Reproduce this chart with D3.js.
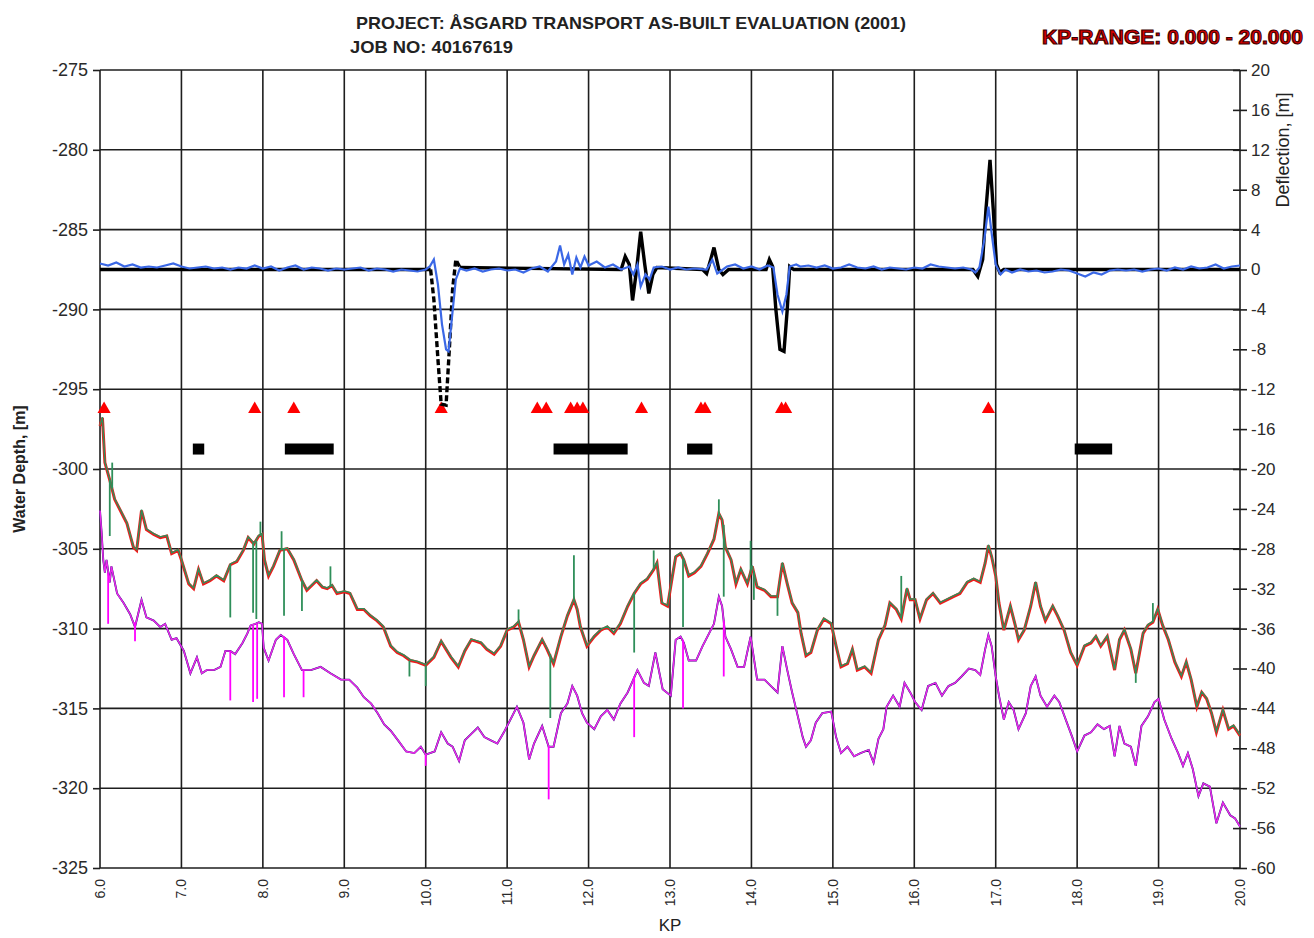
<!DOCTYPE html>
<html>
<head>
<meta charset="utf-8">
<script src="https://d3js.org/d3.v7.min.js"></script>
<style>
	body { margin: 0; background: #fff; }
	svg text { font-family: 'Liberation Sans', Arial, sans-serif; }
</style>
</head>
<body>
<div id="chart"></div>
<script>
// ticks //
var kpTicks = [6, 7, 8, 9, 10, 11, 12, 13, 14, 15, 16, 17, 18, 19, 20]
var depthTicks = [-275, -280, -285, -290, -295, -300, -305, -310, -315, -320, -325]
var deflectionTicks = [20, 16, 12, 8, 4, 0, -4, -8, -12, -16, -20, -24, -28, -32, -36, -40, -44, -48, -52, -56, -60]

// deflection series [kp, m] //
var deflectionBlack = [[6.00,0],[10.06,0],[10.10,-3],[10.15,-9],[10.19,-13.5],[10.25,-13.6],[10.29,-8],[10.33,-2],[10.37,1.0],[10.42,0.2],
	[12.40,0],[12.45,1.3],[12.50,0.5],[12.54,-3.1],[12.59,0],[12.64,3.8],[12.69,0.5],[12.74,-2.4],[12.79,-0.5],[12.84,0.2],
	[13.40,0],[13.45,-0.4],[13.50,1.0],[13.54,2.2],[13.60,0],[13.65,-0.5],[13.72,0],
	[14.18,0],[14.22,1.0],[14.26,0.3],[14.30,-4],[14.35,-8],[14.40,-8.2],[14.44,-4],[14.47,0.3],[14.52,0],
	[16.72,0],[16.78,-0.7],[16.84,1.0],[16.88,6],[16.93,11],[16.97,6],[17.01,0.5],[17.05,-0.3],[17.10,0],[20.00,0]]
var dashedRange = [10.06, 10.42]

var deflectionBlue = [[6.0,0.6],[6.1,0.4],[6.2,0.7],[6.3,0.3],[6.4,0.5],[6.5,0.2],[6.6,0.3],[6.7,0.2],[6.8,0.4],[6.9,0.6],
	[7.0,0.3],[7.1,0.1],[7.2,0.2],[7.3,0.3],[7.4,0.1],[7.5,0.2],[7.6,0.0],[7.7,0.2],[7.8,0.1],[7.9,0.4],
	[8.0,0.1],[8.1,0.3],[8.2,-0.1],[8.3,0.2],[8.4,0.4],[8.5,0.0],[8.6,0.2],[8.7,0.1],[8.8,-0.1],[8.9,0.1],
	[9.0,0.0],[9.1,0.1],[9.2,0.2],[9.3,-0.1],[9.4,0.1],[9.5,0.0],[9.6,-0.2],[9.7,0.0],[9.8,-0.1],[9.9,-0.2],
	[10.0,0.0],[10.05,0.3],[10.1,1.0],[10.15,-1.5],[10.2,-5.5],[10.25,-8.0],[10.28,-8.2],[10.32,-5],[10.37,-1],[10.42,0.1],
	[10.5,-0.1],[10.6,0.1],[10.7,-0.2],[10.8,0.0],[10.9,0.1],[11.0,-0.1],[11.1,0.0],[11.2,-0.3],[11.3,0.1],[11.4,0.3],
	[11.5,-0.2],[11.6,0.8],[11.65,2.4],[11.7,0.5],[11.75,1.5],[11.8,-0.5],[11.85,1.2],[11.9,0.2],[11.95,1.3],[12.0,0.4],
	[12.1,0.8],[12.2,0.2],[12.3,0.5],[12.4,0.0],[12.5,0.3],[12.55,-0.5],[12.6,0.5],[12.64,-1.7],[12.7,-0.5],[12.75,-1.0],
	[12.8,0.2],[12.9,0.3],[13.0,0.0],[13.1,0.2],[13.2,0.0],[13.3,0.1],[13.45,0.0],[13.52,1.0],[13.58,-0.4],[13.65,0.0],
	[13.7,0.3],[13.8,0.5],[13.9,0.1],[14.0,0.3],[14.1,0.0],[14.2,0.4],[14.27,0.2],[14.32,-2.5],[14.38,-4.2],[14.43,-2.5],
	[14.47,0.3],[14.55,0.5],[14.6,0.3],[14.7,0.4],[14.8,0.2],[14.9,0.4],[15.0,0.1],[15.1,0.2],[15.2,0.5],[15.3,0.2],
	[15.4,0.1],[15.5,0.3],[15.6,0.0],[15.7,0.2],[15.8,0.1],[15.9,0.0],[16.0,0.2],[16.1,0.1],[16.2,0.5],[16.3,0.3],
	[16.4,0.2],[16.5,0.1],[16.6,0.2],[16.7,0.0],[16.75,-0.3],[16.8,0.2],[16.86,3.0],[16.91,6.3],[16.96,3.0],[17.0,0.5],
	[17.06,-0.5],[17.12,0.0],[17.2,-0.3],[17.3,0.0],[17.4,-0.2],[17.5,-0.1],[17.6,-0.3],[17.7,-0.2],[17.8,0.0],[17.9,-0.1],
	[18.0,-0.4],[18.1,-0.7],[18.2,-0.3],[18.3,-0.5],[18.4,-0.1],[18.5,0.0],[18.6,-0.1],[18.7,0.0],[18.8,-0.2],[18.9,0.0],
	[19.0,0.1],[19.1,-0.1],[19.2,0.2],[19.3,0.0],[19.4,0.3],[19.5,0.1],[19.6,0.2],[19.7,0.5],[19.8,0.1],[19.9,0.3],[20.0,0.4]]

// markers //
var triangleKp = [6.05, 7.90, 8.38, 10.19, 11.37, 11.48, 11.78, 11.86, 11.93, 12.65, 13.38, 13.43, 14.37, 14.42, 16.91]
var triangleLevel = -14
var barRanges = [[7.14, 7.28], [8.27, 8.87], [11.57, 12.48], [13.21, 13.52], [17.97, 18.43]]
var barLevel = -18

// seabed top of pipe [kp, m] //
var seabedRed = [[6.00,-297.3],[6.03,-296.8],[6.06,-299.6],[6.12,-300.7],[6.18,-301.9],[6.25,-302.6],[6.33,-303.4],[6.41,-304.9],[6.45,-305.1],[6.51,-302.6],
	[6.57,-303.8],[6.66,-304.1],[6.74,-304.3],[6.82,-304.2],[6.88,-305.3],[6.96,-305.1],[7.00,-305.7],[7.09,-307.2],[7.15,-307.5],[7.21,-306.3],
	[7.27,-307.2],[7.35,-307.0],[7.43,-306.7],[7.52,-307.0],[7.60,-306.0],[7.68,-305.8],[7.76,-305.1],[7.82,-304.3],[7.89,-304.7],[7.95,-304.2],
	[7.99,-304.1],[8.02,-305.7],[8.07,-306.7],[8.13,-306.1],[8.21,-305.1],[8.30,-305.0],[8.38,-305.7],[8.48,-307.0],[8.54,-307.6],[8.60,-307.3],
	[8.66,-307.0],[8.73,-307.4],[8.79,-307.5],[8.85,-307.3],[8.91,-307.8],[9.00,-307.7],[9.07,-307.8],[9.16,-308.8],[9.24,-308.8],[9.32,-309.2],
	[9.40,-309.5],[9.48,-309.9],[9.57,-311.1],[9.65,-311.5],[9.73,-311.7],[9.81,-312.0],[9.90,-312.1],[10.00,-312.3],[10.10,-311.8],[10.19,-310.8],
	[10.25,-311.3],[10.31,-311.8],[10.40,-312.4],[10.48,-311.4],[10.56,-310.7],[10.62,-310.8],[10.68,-310.9],[10.75,-311.3],[10.84,-311.6],[10.92,-311.1],
	[11.00,-310.1],[11.08,-309.9],[11.14,-309.6],[11.20,-310.7],[11.27,-312.4],[11.33,-311.7],[11.43,-310.7],[11.49,-311.3],[11.57,-312.2],[11.66,-310.5],
	[11.74,-309.2],[11.82,-308.2],[11.86,-308.8],[11.90,-309.9],[11.98,-311.1],[12.07,-310.5],[12.15,-310.1],[12.23,-309.9],[12.31,-310.3],[12.39,-309.7],
	[12.48,-308.6],[12.56,-307.8],[12.64,-307.2],[12.72,-306.9],[12.80,-306.3],[12.84,-305.9],[12.90,-308.4],[12.97,-308.6],[13.03,-306.7],[13.07,-305.5],
	[13.13,-305.3],[13.17,-305.7],[13.23,-306.7],[13.30,-306.5],[13.38,-306.1],[13.46,-305.3],[13.54,-304.4],[13.60,-302.8],[13.64,-303.2],[13.68,-304.9],
	[13.75,-305.7],[13.81,-307.2],[13.87,-306.3],[13.95,-307.2],[14.01,-306.1],[14.07,-307.4],[14.16,-307.6],[14.24,-308.0],[14.32,-308.0],[14.38,-305.9],
	[14.44,-307.2],[14.50,-308.4],[14.57,-309.0],[14.61,-310.3],[14.67,-311.7],[14.73,-311.5],[14.81,-310.1],[14.89,-309.4],[14.98,-309.7],[15.04,-311.1],
	[15.10,-312.4],[15.18,-312.2],[15.24,-311.3],[15.30,-312.6],[15.39,-312.4],[15.47,-312.8],[15.56,-310.7],[15.64,-309.8],[15.70,-308.4],[15.78,-308.8],
	[15.84,-309.4],[15.91,-307.5],[15.95,-308.2],[16.01,-308.2],[16.07,-309.4],[16.15,-308.2],[16.23,-307.8],[16.32,-308.4],[16.40,-308.2],[16.48,-308.0],
	[16.56,-307.8],[16.65,-307.1],[16.73,-306.9],[16.81,-307.1],[16.87,-305.9],[16.91,-304.8],[16.95,-305.5],[17.00,-306.7],[17.04,-308.4],[17.10,-310.1],
	[17.18,-308.6],[17.24,-309.8],[17.28,-310.7],[17.35,-310.1],[17.43,-308.6],[17.49,-307.1],[17.55,-308.6],[17.61,-309.5],[17.70,-308.6],[17.76,-309.2],
	[17.84,-310.1],[17.92,-311.5],[18.00,-312.3],[18.09,-311.1],[18.17,-310.9],[18.23,-310.5],[18.29,-311.1],[18.37,-310.5],[18.46,-312.6],[18.52,-310.7],
	[18.58,-310.1],[18.66,-311.3],[18.72,-312.8],[18.81,-310.3],[18.87,-309.8],[18.93,-309.6],[18.99,-308.8],[19.05,-309.8],[19.12,-310.7],[19.20,-312.1],
	[19.28,-313.0],[19.34,-312.1],[19.40,-313.2],[19.47,-314.9],[19.53,-314.0],[19.59,-314.4],[19.65,-315.3],[19.71,-316.5],[19.79,-315.1],[19.86,-316.3],
	[19.92,-316.1],[20.00,-316.7]]

// raw survey spikes [kp, from m, to m] //
var seabedGreenSpikes = [[6.12,-300.7,-304.2],[6.15,-301.2,-299.6],[7.60,-306.0,-309.3],[7.88,-304.6,-309.0],[7.92,-304.5,-309.4],
	[7.97,-304.2,-303.3],[8.23,-305.1,-303.9],[8.26,-305.0,-309.2],[8.48,-307.0,-308.9],[8.83,-307.4,-306.1],[9.80,-312.0,-313.0],
	[10.00,-312.3,-313.6],[11.14,-309.6,-308.8],[11.53,-311.6,-315.6],[11.82,-308.2,-305.4],[12.56,-307.8,-311.5],[12.80,-306.3,-305.1],
	[13.16,-305.6,-309.9],[13.60,-302.8,-301.9],[13.66,-303.5,-308.0],[13.99,-306.6,-304.5],[14.03,-306.4,-308.2],[14.32,-308.0,-309.2],
	[15.84,-309.2,-306.7],[18.72,-312.6,-313.4],[18.93,-309.6,-308.4]]

// lower profile [kp, m] //
var seabedMagenta = [[6.00,-302.6],[6.02,-304.0],[6.04,-305.7],[6.06,-306.5],[6.08,-305.7],[6.12,-307.1],[6.14,-306.1],[6.21,-307.8],[6.29,-308.4],[6.37,-309.1],
	[6.43,-309.9],[6.51,-308.2],[6.57,-309.3],[6.66,-309.5],[6.74,-309.9],[6.80,-309.7],[6.88,-310.7],[6.94,-310.6],[7.03,-311.4],[7.11,-312.8],
	[7.19,-311.8],[7.25,-312.8],[7.31,-312.6],[7.40,-312.6],[7.48,-312.4],[7.54,-311.4],[7.60,-311.4],[7.66,-311.6],[7.75,-310.9],[7.81,-310.3],
	[7.85,-309.8],[7.91,-309.7],[7.95,-309.6],[7.99,-309.7],[8.01,-311.2],[8.07,-312.0],[8.16,-310.7],[8.22,-310.4],[8.30,-310.7],[8.38,-311.6],
	[8.48,-312.6],[8.59,-312.6],[8.71,-312.4],[8.83,-312.8],[8.96,-313.2],[9.06,-313.2],[9.16,-313.7],[9.24,-314.3],[9.33,-314.7],[9.41,-315.3],
	[9.49,-316.0],[9.57,-316.4],[9.66,-317.0],[9.76,-317.7],[9.86,-317.8],[9.94,-317.4],[10.00,-317.9],[10.11,-317.7],[10.19,-316.5],[10.27,-317.2],
	[10.33,-317.4],[10.41,-318.3],[10.48,-317.0],[10.56,-316.6],[10.64,-316.2],[10.72,-316.8],[10.80,-317.0],[10.88,-317.2],[10.96,-316.5],[11.02,-315.9],
	[11.12,-314.9],[11.20,-315.9],[11.27,-318.2],[11.33,-317.2],[11.43,-316.1],[11.51,-317.4],[11.57,-317.4],[11.66,-315.3],[11.74,-314.7],[11.80,-313.6],
	[11.86,-314.2],[11.92,-315.3],[11.98,-315.9],[12.07,-316.3],[12.15,-315.5],[12.23,-315.1],[12.31,-315.7],[12.39,-314.7],[12.48,-314.0],[12.60,-312.6],
	[12.68,-313.4],[12.74,-313.6],[12.82,-311.5],[12.91,-313.8],[13.01,-314.2],[13.07,-310.7],[13.13,-310.5],[13.17,-310.9],[13.23,-312.0],[13.32,-312.0],
	[13.40,-311.1],[13.48,-310.3],[13.54,-309.7],[13.60,-308.0],[13.64,-308.6],[13.68,-310.5],[13.75,-311.3],[13.83,-312.4],[13.91,-312.4],[13.99,-310.5],
	[14.07,-313.2],[14.16,-313.2],[14.24,-313.6],[14.32,-314.0],[14.38,-311.1],[14.44,-312.6],[14.50,-314.0],[14.57,-315.5],[14.63,-316.8],[14.67,-317.4],
	[14.73,-317.0],[14.79,-315.9],[14.87,-315.3],[14.98,-315.2],[15.04,-316.8],[15.10,-317.8],[15.18,-317.4],[15.26,-318.0],[15.34,-317.8],[15.44,-317.6],
	[15.50,-318.4],[15.56,-316.9],[15.62,-316.3],[15.66,-314.9],[15.74,-314.2],[15.82,-314.9],[15.88,-313.4],[15.95,-314.0],[16.01,-314.6],[16.09,-315.1],
	[16.17,-313.6],[16.26,-313.4],[16.34,-314.2],[16.42,-313.6],[16.50,-313.4],[16.58,-313.0],[16.67,-312.5],[16.75,-312.6],[16.81,-312.9],[16.87,-311.3],
	[16.91,-310.4],[16.95,-311.1],[17.00,-313.0],[17.04,-314.2],[17.10,-315.7],[17.16,-314.6],[17.22,-315.1],[17.28,-316.3],[17.37,-315.3],[17.43,-313.6],
	[17.49,-313.0],[17.55,-314.2],[17.63,-314.9],[17.72,-314.2],[17.78,-314.6],[17.86,-315.7],[17.94,-316.8],[18.00,-317.7],[18.09,-316.7],[18.17,-316.5],
	[18.25,-316.0],[18.33,-316.3],[18.40,-316.1],[18.46,-318.0],[18.52,-316.1],[18.58,-317.2],[18.66,-317.4],[18.72,-318.6],[18.79,-316.1],[18.87,-315.5],
	[18.95,-314.6],[19.00,-314.4],[19.07,-315.7],[19.16,-316.9],[19.24,-317.8],[19.30,-318.6],[19.36,-317.8],[19.42,-318.8],[19.49,-320.5],[19.55,-319.7],
	[19.63,-319.9],[19.71,-322.2],[19.79,-320.9],[19.88,-321.7],[19.94,-321.9],[20.00,-322.4]]

var seabedMagentaSpikes = [[6.10,-306.5,-309.7],[6.43,-309.6,-310.8],[7.60,-311.4,-314.5],[7.88,-309.8,-314.6],[7.93,-309.7,-314.4],
	[8.26,-310.5,-314.3],[8.50,-312.6,-314.3],[10.00,-317.9,-318.6],[11.51,-317.4,-320.7],[12.56,-313.0,-316.8],
	[13.16,-310.7,-315.0],[13.66,-309.5,-313.0]]

// add svg tag
var visWidth = 1314,
		visHeight = 938,
		plotLeft = 100,
		plotRight = 1240,
		plotTop = 70,
		plotBottom = 868

var vis = d3.select('#chart')
	.append('svg')
		.attr('width', visWidth)
		.attr('height', visHeight)

// scales
var xKp = d3.scaleLinear().domain([6, 20]).range([plotLeft, plotRight])
var yDepth = d3.scaleLinear().domain([-325, -275]).range([plotBottom, plotTop])
var yDefl = d3.scaleLinear().domain([-60, 20]).range([plotBottom, plotTop])

// grid //
var gridColor = '#1e1e1e'

vis.append('g')
	.selectAll('line')
	.data(depthTicks).enter()
	.append('line')
		.attr('x1', plotLeft)
		.attr('x2', plotRight)
		.attr('y1', function(d){ return yDepth(d) })
		.attr('y2', function(d){ return yDepth(d) })
		.attr('stroke', gridColor)
		.attr('stroke-width', 1.6)

vis.append('g')
	.selectAll('line')
	.data(kpTicks).enter()
	.append('line')
		.attr('x1', function(d){ return xKp(d) })
		.attr('x2', function(d){ return xKp(d) })
		.attr('y1', plotTop)
		.attr('y2', plotBottom)
		.attr('stroke', gridColor)
		.attr('stroke-width', 1.6)

// axes //
// plain hyphen minus, like the original
var plainNumber = function(d){ return String(d) }

var leftAxis = vis.append('g')
	.attr('transform', 'translate(' + plotLeft + ',0)')
	.call(d3.axisLeft(yDepth).tickValues(depthTicks).tickSize(7).tickPadding(5).tickFormat(plainNumber))
leftAxis.select('.domain').remove()
leftAxis.selectAll('line').attr('stroke', gridColor).attr('stroke-width', 1.6)
leftAxis.selectAll('text')
	.attr('font-size', 18)
	.attr('fill', '#2a2a2a')
	.style('font-family', "'Liberation Sans', Arial, sans-serif")

var rightAxis = vis.append('g')
	.attr('transform', 'translate(' + plotRight + ',0)')
	.call(d3.axisRight(yDefl).tickValues(deflectionTicks).tickSize(7).tickPadding(4).tickFormat(plainNumber))
rightAxis.select('.domain').remove()
rightAxis.selectAll('line').attr('x1', -7).attr('stroke', gridColor).attr('stroke-width', 1.6)
rightAxis.selectAll('text')
	.attr('font-size', 17)
	.attr('fill', '#2a2a2a')
	.style('font-family', "'Liberation Sans', Arial, sans-serif")

// kp labels, rotated
vis.append('g')
	.selectAll('text')
	.data(kpTicks).enter()
	.append('text')
		.attr('transform', function(d){
			return 'translate(' + xKp(d) + ',' + (plotBottom + 11) + ') rotate(-90)'
		})
		.attr('text-anchor', 'end')
		.attr('dy', '0.35em')
		.attr('font-size', 14)
		.attr('fill', '#2a2a2a')
		.text(d3.format('.1f'))

// lower profile //
var depthLine = d3.line()
	.x(function(d){ return xKp(d[0]) })
	.y(function(d){ return yDepth(d[1]) })

vis.append('path')
	.datum(seabedMagenta)
	.attr('d', depthLine)
	.attr('fill', 'none')
	.attr('stroke', '#1a1070')
	.attr('stroke-width', 1.9)

vis.append('path')
	.datum(seabedMagenta)
	.attr('d', depthLine)
	.attr('fill', 'none')
	.attr('stroke', '#ea2aea')
	.attr('stroke-width', 1.5)

vis.append('g')
	.selectAll('line')
	.data(seabedMagentaSpikes).enter()
	.append('line')
		.attr('x1', function(d){ return xKp(d[0]) })
		.attr('x2', function(d){ return xKp(d[0]) })
		.attr('y1', function(d){ return yDepth(d[1]) })
		.attr('y2', function(d){ return yDepth(d[2]) })
		.attr('stroke', '#ff00ff')
		.attr('stroke-width', 1.8)

// upper profile //
vis.append('path')
	.datum(seabedRed)
	.attr('d', depthLine)
	.attr('fill', 'none')
	.attr('stroke', '#ee1c1c')
	.attr('stroke-width', 3)

vis.append('path')
	.datum(seabedRed)
	.attr('d', depthLine)
	.attr('fill', 'none')
	.attr('stroke', '#2f8f5a')
	.attr('stroke-width', 1.4)
	.attr('transform', 'translate(0,-0.8)')

vis.append('g')
	.selectAll('line')
	.data(seabedGreenSpikes).enter()
	.append('line')
		.attr('x1', function(d){ return xKp(d[0]) })
		.attr('x2', function(d){ return xKp(d[0]) })
		.attr('y1', function(d){ return yDepth(d[1]) })
		.attr('y2', function(d){ return yDepth(d[2]) })
		.attr('stroke', '#2f8f5a')
		.attr('stroke-width', 1.8)

// markers //
vis.append('g')
	.selectAll('line')
	.data(barRanges).enter()
	.append('line')
		.attr('x1', function(d){ return xKp(d[0]) })
		.attr('x2', function(d){ return xKp(d[1]) })
		.attr('y1', yDefl(barLevel))
		.attr('y2', yDefl(barLevel))
		.attr('stroke', '#000')
		.attr('stroke-width', 11)

vis.append('g')
	.selectAll('path')
	.data(triangleKp).enter()
	.append('path')
		.attr('d', d3.symbol(d3.symbolTriangle).size(75))
		.attr('transform', function(d){
			return 'translate(' + xKp(d) + ',' + yDefl(triangleLevel) + ')'
		})
		.attr('fill', '#ff0000')

// deflection //
var deflLine = d3.line()
	.x(function(d){ return xKp(d[0]) })
	.y(function(d){ return yDefl(d[1]) })

var inDash = function(d){
	return d[0] >= dashedRange[0] && d[0] <= dashedRange[1]
}

vis.append('path')
	.datum(deflectionBlack)
	.attr('d', d3.line()
		.defined(function(d){ return d[0] <= dashedRange[0] || d[0] >= dashedRange[1] })
		.x(function(d){ return xKp(d[0]) })
		.y(function(d){ return yDefl(d[1]) }))
	.attr('fill', 'none')
	.attr('stroke', '#000')
	.attr('stroke-width', 3.4)

vis.append('path')
	.datum(deflectionBlack.filter(inDash))
	.attr('d', deflLine)
	.attr('fill', 'none')
	.attr('stroke', '#000')
	.attr('stroke-width', 3.4)
	.attr('stroke-dasharray', '6,3')

vis.append('path')
	.datum(deflectionBlue)
	.attr('d', deflLine)
	.attr('fill', 'none')
	.attr('stroke', '#3b68e6')
	.attr('stroke-width', 2.2)

// titles //
vis.append('text')
	.attr('x', 356)
	.attr('y', 29)
	.attr('font-size', 17)
	.attr('font-weight', 'bold')
	.attr('fill', '#222')
	.attr('textLength', 550)
	.attr('lengthAdjust', 'spacingAndGlyphs')
	.text('PROJECT: ÅSGARD TRANSPORT AS-BUILT EVALUATION (2001)')

vis.append('text')
	.attr('x', 350)
	.attr('y', 53)
	.attr('font-size', 17)
	.attr('font-weight', 'bold')
	.attr('fill', '#222')
	.attr('textLength', 163)
	.attr('lengthAdjust', 'spacingAndGlyphs')
	.text('JOB NO: 40167619')

vis.append('text')
	.attr('x', 1042)
	.attr('y', 44)
	.attr('font-size', 21)
	.attr('font-weight', 'bold')
	.attr('fill', '#d40000')
	.attr('stroke', '#3a0000')
	.attr('stroke-width', 1.1)
	.attr('textLength', 261)
	.attr('lengthAdjust', 'spacingAndGlyphs')
	.text('KP-RANGE: 0.000 - 20.000')

vis.append('text')
	.attr('transform', 'translate(25,469) rotate(-90)')
	.attr('text-anchor', 'middle')
	.attr('font-size', 16)
	.attr('font-weight', 'bold')
	.attr('fill', '#222')
	.text('Water Depth, [m]')

vis.append('text')
	.attr('transform', 'translate(1289,150) rotate(-90)')
	.attr('text-anchor', 'middle')
	.attr('font-size', 18)
	.attr('fill', '#222')
	.text('Deflection, [m]')

vis.append('text')
	.attr('x', 670)
	.attr('y', 931)
	.attr('text-anchor', 'middle')
	.attr('font-size', 17)
	.attr('fill', '#222')
	.text('KP')
</script>
</body>
</html>
